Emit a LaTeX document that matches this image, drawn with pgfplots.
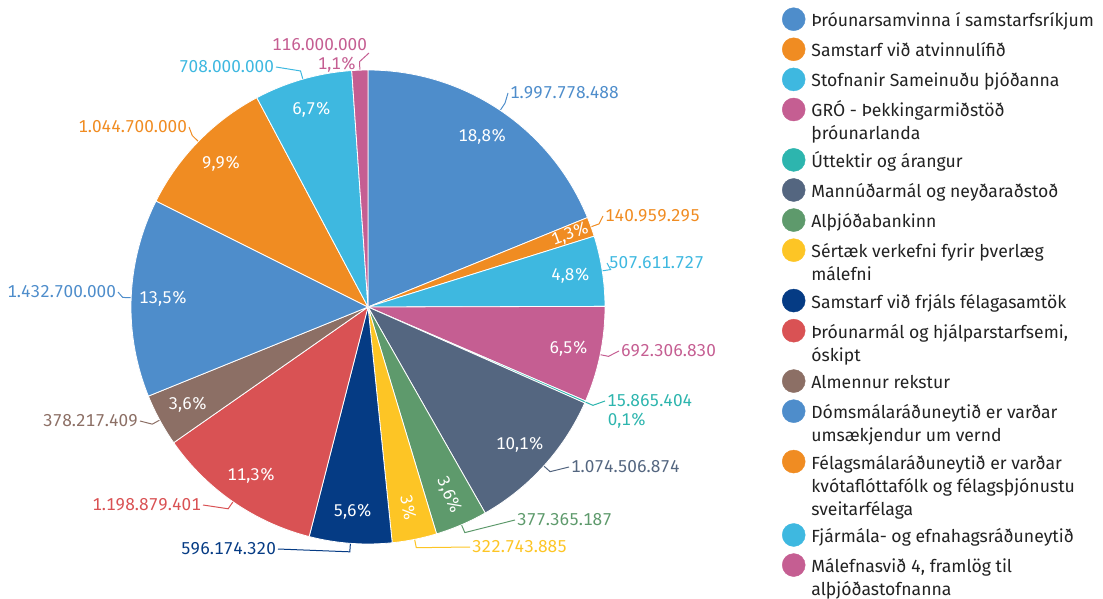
\documentclass[border=0pt]{standalone}
\usepackage{fontspec}
\setmainfont{Fira Sans}[Numbers=Monospaced]
\usepackage{pgfplots}
\pgfplotsset{compat=1.18}
\usepackage{pgfplotstable}

\definecolor{c1}{HTML}{4E8DCB}
\definecolor{c2}{HTML}{F08C22}
\definecolor{c3}{HTML}{3EB8E0}
\definecolor{c4}{HTML}{C55E92}
\definecolor{c5}{HTML}{2DB5AE}
\definecolor{c6}{HTML}{546680}
\definecolor{c7}{HTML}{5E9A6C}
\definecolor{c8}{HTML}{FDC525}
\definecolor{c9}{HTML}{053B84}
\definecolor{c10}{HTML}{D95254}
\definecolor{c11}{HTML}{8C6F65}
\colorlet{c12}{c1}\colorlet{c13}{c2}\colorlet{c14}{c3}\colorlet{c15}{c4}
\definecolor{legtext}{HTML}{222222}

\newcommand\labfont{\fontsize{17.2bp}{20bp}\selectfont}
\newcommand\pctfont{\fontsize{17bp}{20bp}\selectfont}
\newcommand\legfont{\fontsize{17.6bp}{23bp}\selectfont}

% values in millions of ISK; label text; label anchor point (px); pct-label mode
\pgfplotstableread[col sep=semicolon]{
val;col;pct;lab;lx;ly;anc;mode;pr;px;py
1997.778488;c1;18,8;1.997.778.488;508;93;west;0;205;0;0
140.959295;c2;1,3;140.959.295;603;216;west;1;215;0;0
507.611727;c3;4,8;507.611.727;607;263;west;0;205;0;0
692.306830;c4;6,5;692.306.830;619;351;west;0;205;0;0
15.865404;c5;0,1;15.865.404;605;401;west;2;0;627;421
1074.506874;c6;10,1;1.074.506.874;569;467;west;0;205;0;0
377.365187;c7;3,6;377.365.187;515;520;west;1;205;0;0
322.743885;c8;3;322.743.885;470;547;west;1;205;0;0
596.174320;c9;5,6;596.174.320;278;549;east;0;205;0;0
1198.879401;c10;11,3;1.198.879.401;203;505;east;0;205;0;0
378.217409;c11;3,6;378.217.409;140;421;east;0;205;0;0
1432.700000;c12;13,5;1.432.700.000;118;292;east;0;205;0;0
1044.700000;c13;9,9;1.044.700.000;189;127;east;0;205;0;0
708.000000;c14;6,7;708.000.000;276;67;east;0;205;0;0
116.000000;c15;1,1;116.000.000;369;53;south east;2;0;337;65
}\piedata

\newcommand\getcell[2]{\pgfplotstablegetelem{#1}{#2}\of\piedata
  \expandafter\xdef\csname #2#1\endcsname{\pgfplotsretval}}

\pgfmathsetmacro\total{0}
\pgfplotsforeachungrouped \i in {0,...,14}{%
  \pgfplotstablegetelem{\i}{val}\of\piedata
  \pgfmathsetmacro\total{\total+\pgfplotsretval}%
}
\pgfmathsetmacro\cum{0}
\pgfplotsforeachungrouped \i in {0,...,14}{%
  \pgfplotstablegetelem{\i}{val}\of\piedata
  \let\v\pgfplotsretval
  \pgfmathsetmacro\sa{90-360*(\cum/\total)}%
  \pgfmathsetmacro\cum{\cum+\v}%
  \pgfmathsetmacro\ea{90-360*(\cum/\total)}%
  \pgfmathsetmacro\ma{(\sa+\ea)/2}%
  \expandafter\xdef\csname sa\i\endcsname{\sa}%
  \expandafter\xdef\csname ea\i\endcsname{\ea}%
  \expandafter\xdef\csname ma\i\endcsname{\ma}%
  \getcell{\i}{col}\getcell{\i}{pct}\getcell{\i}{lab}\getcell{\i}{lx}\getcell{\i}{ly}%
  \getcell{\i}{anc}\getcell{\i}{mode}\getcell{\i}{pr}\getcell{\i}{px}\getcell{\i}{py}%
}

\newcommand\drawslice[1]{%
  \edef\SA{\csname sa#1\endcsname}\edef\EA{\csname ea#1\endcsname}\edef\COL{\csname col#1\endcsname}%
  \edef\temp{\noexpand\filldraw[fill=\COL, draw=white, line width=0.8bp, line join=round]
    (axis cs:368,307) -- ++(\SA:237bp) arc[start angle=\SA, end angle=\EA, radius=237bp] -- cycle;}%
  \temp
}
\newcommand\drawlabels[1]{%
  \edef\MA{\csname ma#1\endcsname}\edef\COL{\csname col#1\endcsname}%
  \edef\LX{\csname lx#1\endcsname}\edef\LY{\csname ly#1\endcsname}%
  \edef\ANC{\csname anc#1\endcsname}\edef\LAB{\csname lab#1\endcsname}%
  \edef\PCT{\csname pct#1\endcsname}\edef\MODE{\csname mode#1\endcsname}%
  \edef\PR{\csname pr#1\endcsname}\edef\PX{\csname px#1\endcsname}\edef\PY{\csname py#1\endcsname}%
  \edef\temp{\noexpand\draw[draw=\COL, line width=1bp] (axis cs:368,307) ++(\MA:237.5bp) -- ++(\MA:8bp) -- (axis cs:\LX,\LY)
     node[anchor=\ANC, inner sep=1.5bp, text=\COL, font=\noexpand\labfont] {\LAB};}%
  \temp
  \ifnum\MODE=0
    \edef\temp{\noexpand\path (axis cs:368,307) ++(\MA:\PR bp) node[text=white, font=\noexpand\pctfont, inner sep=0pt] {\PCT\noexpand\%};}%
    \temp
  \fi
  \ifnum\MODE=1
    \edef\temp{\noexpand\path (axis cs:368,307) ++(\MA:\PR bp) node[text=white, font=\noexpand\pctfont, inner sep=0pt, rotate=\MA] {\PCT\noexpand\%};}%
    \temp
  \fi
  \ifnum\MODE=2
    \edef\temp{\noexpand\node[text=\COL, font=\noexpand\pctfont, inner sep=0pt] at (axis cs:\PX,\PY) {\PCT\noexpand\%};}%
    \temp
  \fi
}
\newcommand\leg[1]{\addlegendimage{legend image code/.code={\fill[#1] (11.5bp,-8.6bp) circle (11.5bp);}}}
\newcommand\lastrule{\rule[-10.2bp]{0pt}{1bp}}
\newcommand\lastrulethree{\rule[-11.6bp]{0pt}{1bp}}

\begin{document}
\begin{tikzpicture}
\useasboundingbox (0,0) rectangle (1103bp,599bp);
\begin{axis}[
  at={(0,0)}, anchor=south west,
  scale only axis, width=1103bp, height=599bp,
  xmin=0, xmax=1103, ymin=0, ymax=599, y dir=reverse,
  hide axis, clip=false,
  legend style={draw=none, fill=none, at={(axis cs:782,7.5)}, anchor=north west,
    inner sep=0pt, outer sep=0pt, row sep=6.7bp, column sep=6bp,
    font=\legfont, text=legtext,
    nodes={inner sep=0pt, outer sep=0pt, anchor=north west, align=left},
    cells={anchor=north west}},
]
\pgfplotsinvokeforeach{0,...,14}{\drawslice{#1}}
\pgfplotsinvokeforeach{0,...,14}{\drawlabels{#1}}
\leg{c1}\addlegendentry{\strut Þróunarsamvinna í samstarfsríkjum\strut}
\leg{c2}\addlegendentry{\strut Samstarf við atvinnulífið\strut}
\leg{c3}\addlegendentry{\strut Stofnanir Sameinuðu þjóðanna\strut}
\leg{c4}\addlegendentry{\strut GRÓ - Þekkingarmiðstöð\\þróunarlanda\lastrule}
\leg{c5}\addlegendentry{\strut Úttektir og árangur\strut}
\leg{c6}\addlegendentry{\strut Mannúðarmál og neyðaraðstoð\strut}
\leg{c7}\addlegendentry{\strut Alþjóðabankinn\strut}
\leg{c8}\addlegendentry{\strut Sértæk verkefni fyrir þverlæg\\málefni\lastrule}
\leg{c9}\addlegendentry{\strut Samstarf við frjáls félagasamtök\strut}
\leg{c10}\addlegendentry{\strut Þróunarmál og hjálparstarfsemi,\\óskipt\lastrule}
\leg{c11}\addlegendentry{\strut Almennur rekstur\strut}
\leg{c12}\addlegendentry{\strut Dómsmálaráðuneytið er varðar\\umsækjendur um vernd\lastrule}
\leg{c13}\addlegendentry{\strut Félagsmálaráðuneytið er varðar\\kvótaflóttafólk og félagsþjónustu\\sveitarfélaga\lastrulethree}
\leg{c14}\addlegendentry{\strut Fjármála- og efnahagsráðuneytið\strut}
\leg{c15}\addlegendentry{\strut Málefnasvið 4, framlög til\\alþjóðastofnanna\lastrule}
\end{axis}
\end{tikzpicture}
\end{document}
